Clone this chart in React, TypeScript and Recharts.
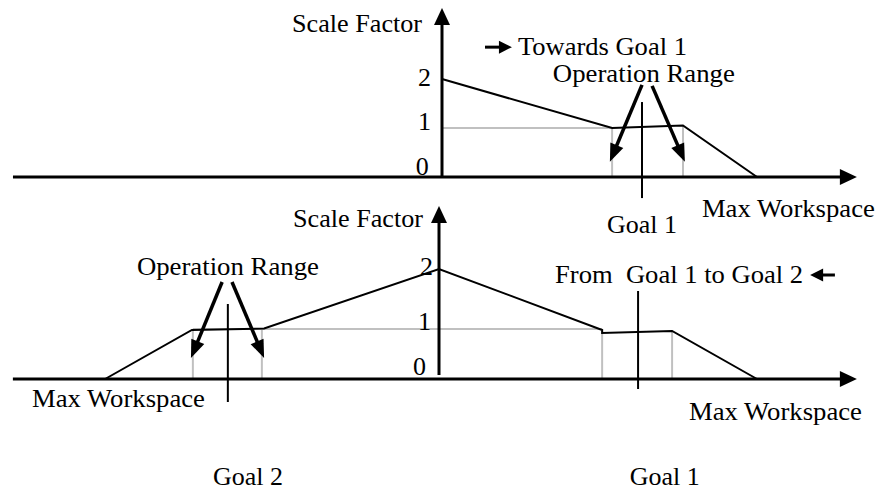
import React from 'react';
import { ComposedChart, Line, XAxis, YAxis, ReferenceLine, ReferenceDot } from 'recharts';

// ---------- TOP PANEL (Towards Goal 1) ----------
// x: workspace units (Max Workspace = 10), y: scale factor
const topProfile = [
  { x: 0, y: 2 },
  { x: 5.4, y: 1 },
  { x: 7.65, y: 1.05 },
  { x: 10, y: 0 },
];
const topUnity = [
  { x: 0, y: 1 },
  { x: 5.4, y: 1 },
];
const topRangeLeft = [
  { x: 5.4, y: 0 },
  { x: 5.4, y: 1 },
];
const topRangeRight = [
  { x: 7.65, y: 0 },
  { x: 7.65, y: 1.05 },
];
const topGoal1 = [
  { x: 6.35, y: -0.43 },
  { x: 6.35, y: 1.53 },
];
const topArrows = [
  [{ x: 6.35, y: 1.88 }, { x: 5.33, y: 0.31 }],
  [{ x: 6.67, y: 1.86 }, { x: 7.71, y: 0.31 }],
];
const topDirArrow = [{ x: 1.365, y: 2.65 }, { x: 2.22, y: 2.65 }];
const topXAxisLine = [{ x: -13.62, y: 0 }, { x: 13.17, y: 0 }];
const topYAxisLine = [{ x: 0, y: 0 }, { x: 0, y: 3.45 }];
const topTickLabels = [
  { text: '2', x: -0.76, y: 1.86 },
  { text: '1', x: -0.76, y: 0.96 },
  { text: '0', x: -0.83, y: 0.04 },
];
const topTexts = [
  { text: 'Scale Factor', x: -4.76, y: 2.96 },
  { text: 'Towards Goal 1', x: 2.41, y: 2.49 },
  { text: 'Operation Range', x: 3.52, y: 1.94 },
  { text: 'Goal 1', x: 5.24, y: -1.14 },
  { text: 'Max Workspace', x: 8.25, y: -0.82 },
];

// ---------- BOTTOM PANEL (From Goal 1 to Goal 2) ----------
const botProfile = [
  { x: -10.5, y: 0 },
  { x: -7.77, y: 0.98 },
  { x: -5.5, y: 1.01 },
  { x: 0, y: 2.2 },
  { x: 5.13, y: 0.98 },
  { x: 5.13, y: 0.92 },
  { x: 7.33, y: 0.96 },
  { x: 10, y: 0 },
];
const botUnity = [
  { x: -7.74, y: 1 },
  { x: 5.13, y: 1 },
];
const botRangeBounds = [
  [{ x: -7.74, y: 0 }, { x: -7.74, y: 1 }],
  [{ x: -5.57, y: 0 }, { x: -5.57, y: 1 }],
  [{ x: 5.13, y: 0 }, { x: 5.13, y: 1 }],
  [{ x: 7.33, y: 0 }, { x: 7.33, y: 0.96 }],
];
const botGoal2 = [{ x: -6.64, y: -0.46 }, { x: -6.64, y: 1.5 }];
const botGoal1 = [{ x: 6.26, y: -0.2 }, { x: 6.26, y: 1.76 }];
const botArrows = [
  [{ x: -6.82, y: 1.94 }, { x: -7.8, y: 0.42 }],
  [{ x: -6.51, y: 1.94 }, { x: -5.5, y: 0.42 }],
];
const botDirArrow = [{ x: 12.45, y: 2.08 }, { x: 11.67, y: 2.08 }];
const botXAxisLine = [{ x: -13.4, y: 0 }, { x: 13.14, y: 0 }];
const botYAxisLine = [{ x: 0, y: 0.08 }, { x: 0, y: 3.46 }];
const botTickLabels = [
  { text: '2', x: -0.6, y: 2.08 },
  { text: '1', x: -0.66, y: 0.98 },
  { text: '0', x: -0.82, y: 0.08 },
];
const botTexts = [
  { text: 'Scale Factor', x: -4.59, y: 3.04 },
  { text: 'Operation Range', x: -9.5, y: 2.08 },
  { text: 'From  Goal 1 to Goal 2', x: 3.65, y: 1.92 },
  { text: 'Max Workspace', x: -12.8, y: -0.56 },
  { text: 'Max Workspace', x: 7.86, y: -0.82 },
  { text: 'Goal 2', x: -7.11, y: -2.12 },
  { text: 'Goal 1', x: 6.0, y: -2.12 },
];

// ---------- styling ----------
const W = 878;
const H = 492;
const FONT = "'Liberation Serif', 'Times New Roman', serif";
const FONT_SIZE = 26;
const TEXT_WIDTH: Record<string, number> = {
  'Scale Factor': 130,
  'Towards Goal 1': 169,
  'Operation Range': 182,
  'Goal 1': 70,
  'Goal 2': 70,
  'Max Workspace': 173,
  'From  Goal 1 to Goal 2': 248,
};
const GREY = '#c0c0c0';

const textShape = (text: string) => (p: any) => {
  const len = TEXT_WIDTH[text];
  return (
    <text
      x={p.cx}
      y={p.cy}
      fontFamily={FONT}
      fontSize={FONT_SIZE}
      fill="#000"
      textAnchor="start"
      style={{ whiteSpace: 'pre' }}
      {...(len ? { textLength: len, lengthAdjust: 'spacingAndGlyphs' } : {})}
    >
      {text}
    </text>
  );
};

const arrowShape = (headLen: number, headHalf: number, width: number) => (p: any) => {
  const { x1, y1, x2, y2 } = p;
  const dx = x2 - x1;
  const dy = y2 - y1;
  const L = Math.hypot(dx, dy) || 1;
  const ux = dx / L;
  const uy = dy / L;
  const bx = x2 - ux * headLen;
  const by = y2 - uy * headLen;
  const px = -uy;
  const py = ux;
  return (
    <g>
      <line x1={x1} y1={y1} x2={bx + ux * 2} y2={by + uy * 2} stroke="#000" strokeWidth={width} />
      <polygon
        points={`${x2},${y2} ${bx + px * headHalf},${by + py * headHalf} ${bx - px * headHalf},${by - py * headHalf}`}
        fill="#000"
      />
    </g>
  );
};

const axisArrow = arrowShape(17, 8, 3);
const rangeArrow = arrowShape(18, 7, 3.5);
const dirArrow = arrowShape(13, 6.5, 3);

const seg = (pts: { x: number; y: number }[]) => pts.map((p) => ({ x: p.x, y: p.y }));

export default function App() {
  return (
    <div style={{ position: 'absolute', left: 0, top: 0, width: W, height: H, background: '#fff' }}>
      <ComposedChart width={W} height={H} margin={{ top: 0, right: 0, bottom: 0, left: 0 }}>
        <XAxis xAxisId="t" dataKey="x" type="number" domain={[-442 / 31.5, 436 / 31.5]} allowDataOverflow hide />
        <YAxis yAxisId="t" type="number" domain={[-315 / 49, 177 / 49]} allowDataOverflow hide />
        <XAxis xAxisId="b" dataKey="x" type="number" domain={[-439 / 31.8, 439 / 31.8]} allowDataOverflow hide />
        <YAxis yAxisId="b" type="number" domain={[-113 / 50, 379 / 50]} allowDataOverflow hide />

        {/* grey unity / range lines */}
        <Line xAxisId="t" yAxisId="t" data={topUnity} dataKey="y" stroke={GREY} strokeWidth={2} dot={false} isAnimationActive={false} />
        <Line xAxisId="t" yAxisId="t" data={topRangeLeft} dataKey="y" stroke={GREY} strokeWidth={2} dot={false} isAnimationActive={false} />
        <Line xAxisId="t" yAxisId="t" data={topRangeRight} dataKey="y" stroke={GREY} strokeWidth={2} dot={false} isAnimationActive={false} />
        <Line xAxisId="b" yAxisId="b" data={botUnity} dataKey="y" stroke={GREY} strokeWidth={2} dot={false} isAnimationActive={false} />
        {botRangeBounds.map((d, i) => (
          <Line key={'bb' + i} xAxisId="b" yAxisId="b" data={d} dataKey="y" stroke={GREY} strokeWidth={2} dot={false} isAnimationActive={false} />
        ))}

        {/* scale factor profiles */}
        <Line xAxisId="t" yAxisId="t" data={topProfile} dataKey="y" stroke="#000" strokeWidth={2} dot={false} isAnimationActive={false} />
        <Line xAxisId="b" yAxisId="b" data={botProfile} dataKey="y" stroke="#000" strokeWidth={2} dot={false} isAnimationActive={false} />

        {/* goal markers */}
        <ReferenceLine xAxisId="t" yAxisId="t" segment={seg(topGoal1)} stroke="#000" strokeWidth={2} />
        <ReferenceLine xAxisId="b" yAxisId="b" segment={seg(botGoal2)} stroke="#000" strokeWidth={2} />
        <ReferenceLine xAxisId="b" yAxisId="b" segment={seg(botGoal1)} stroke="#000" strokeWidth={2} />

        {/* axes with arrowheads */}
        <ReferenceLine xAxisId="t" yAxisId="t" segment={seg(topXAxisLine)} shape={axisArrow} />
        <ReferenceLine xAxisId="t" yAxisId="t" segment={seg(topYAxisLine)} shape={axisArrow} />
        <ReferenceLine xAxisId="b" yAxisId="b" segment={seg(botXAxisLine)} shape={axisArrow} />
        <ReferenceLine xAxisId="b" yAxisId="b" segment={seg(botYAxisLine)} shape={axisArrow} />

        {/* operation range arrows */}
        {topArrows.map((a, i) => (
          <ReferenceLine key={'ta' + i} xAxisId="t" yAxisId="t" segment={seg(a)} shape={rangeArrow} />
        ))}
        {botArrows.map((a, i) => (
          <ReferenceLine key={'ba' + i} xAxisId="b" yAxisId="b" segment={seg(a)} shape={rangeArrow} />
        ))}
        <ReferenceLine xAxisId="t" yAxisId="t" segment={seg(topDirArrow)} shape={dirArrow} />
        <ReferenceLine xAxisId="b" yAxisId="b" segment={seg(botDirArrow)} shape={dirArrow} />

        {/* texts */}
        {[...topTexts, ...topTickLabels].map((t, i) => (
          <ReferenceDot key={'tt' + i} xAxisId="t" yAxisId="t" x={t.x} y={t.y} r={0} shape={textShape(t.text)} />
        ))}
        {[...botTexts, ...botTickLabels].map((t, i) => (
          <ReferenceDot key={'bt' + i} xAxisId="b" yAxisId="b" x={t.x} y={t.y} r={0} shape={textShape(t.text)} />
        ))}
      </ComposedChart>
    </div>
  );
}
